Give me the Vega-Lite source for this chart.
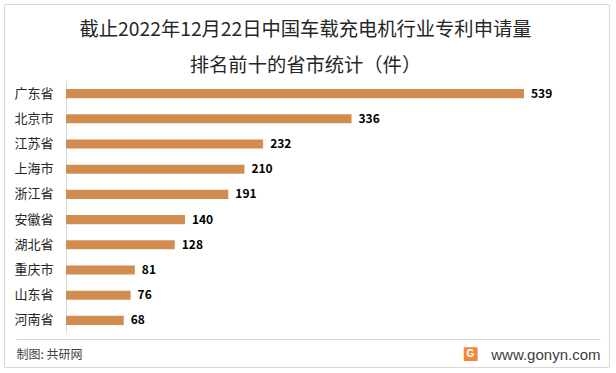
{
  "$schema": "https://vega.github.io/schema/vega-lite/v6.json",
  "width": 605,
  "height": 363,
  "autosize": {"type": "none"},
  "padding": {"left": 4, "top": 4, "right": 7, "bottom": 6},
  "background": "white",
  "config": {
    "view": {"stroke": "#d9d9d9", "strokeWidth": 1},
    "font": "Noto Sans CJK SC"
  },
  "title": {
    "text": ["截止2022年12月22日中国车载充电机行业专利申请量", "排名前十的省市统计（件）"],
    "anchor": "middle",
    "frame": "group",
    "baseline": "top",
    "offset": -72,
    "dx": -1,
    "lineHeight": 36,
    "fontSize": 19.3,
    "fontWeight": "normal",
    "font": "Noto Sans CJK SC",
    "color": "#262626"
  },
  "datasets": {
    "patents": [
      {"province": "广东省", "value": 539},
      {"province": "北京市", "value": 336},
      {"province": "江苏省", "value": 232},
      {"province": "上海市", "value": 210},
      {"province": "浙江省", "value": 191},
      {"province": "安徽省", "value": 140},
      {"province": "湖北省", "value": 128},
      {"province": "重庆市", "value": 81},
      {"province": "山东省", "value": 76},
      {"province": "河南省", "value": 68}
    ],
    "logo": [{"logo": "G", "anchor": "河南省"}]
  },
  "layer": [
    {
      "data": {"name": "patents"},
      "encoding": {
        "y": {
          "field": "province",
          "type": "nominal",
          "sort": null,
          "scale": {
            "domain": ["广东省", "北京市", "江苏省", "上海市", "浙江省", "安徽省", "湖北省", "重庆市", "山东省", "河南省"],
            "range": [77, 329], "paddingInner": 0.64, "paddingOuter": 0.32
          },
          "axis": {
            "orient": "left",
            "offset": -62,
            "domainColor": "#d9d9d9",
            "ticks": false,
            "labelPadding": 13,
            "labelFontSize": 13,
            "labelColor": "#262626",
            "labelFont": "Noto Sans CJK SC",
            "title": "www.gonyn.com",
            "titleAngle": 0,
            "titleX": 534,
            "titleY": 350,
            "titleAlign": "right",
            "titleBaseline": "middle",
            "titleFont": "Liberation Sans",
            "titleFontSize": 15,
            "titleFontWeight": "normal",
            "titleColor": "#404040"
          }
        },
        "x": {
          "field": "value",
          "type": "quantitative",
          "scale": {"domain": [-58.84, 628.44], "range": [12, 596], "nice": false, "zero": false},
          "axis": {
            "orient": "bottom",
            "offset": -28,
            "domain": true,
            "domainColor": "#d9d9d9",
            "ticks": false,
            "labels": false,
            "grid": false,
            "title": "制图: 共研网",
            "titleX": 12,
            "titleY": 15,
            "titleAlign": "left",
            "titleAnchor": "start",
            "titleBaseline": "middle",
            "titleFont": "Noto Sans CJK SC",
            "titleFontSize": 12,
            "titleFontWeight": "normal",
            "titleColor": "#404040"
          }
        }
      },
      "layer": [
        {"mark": {"type": "bar", "color": "#D38C50"}},
        {
          "mark": {"type": "text", "align": "left", "baseline": "middle", "dx": 7, "fontSize": 12, "fontWeight": "bold", "color": "#000000", "font": "Noto Sans CJK SC"},
          "encoding": {"text": {"field": "value", "type": "quantitative"}}
        }
      ]
    },
    {
      "data": {"name": "logo"},
      "mark": {"type": "text", "align": "center", "baseline": "middle", "dy": 34, "fontSize": 18, "color": "#F0883A", "font": "DejaVu Sans"},
      "encoding": {
        "x": {"datum": 476, "type": "quantitative"},
        "y": {"field": "anchor", "type": "nominal"},
        "text": {"value": "■"}
      }
    },
    {
      "data": {"name": "logo"},
      "mark": {"type": "text", "align": "center", "baseline": "middle", "dy": 34, "fontSize": 10, "fontWeight": "bold", "color": "white", "font": "Liberation Sans"},
      "encoding": {
        "x": {"datum": 476, "type": "quantitative"},
        "y": {"field": "anchor", "type": "nominal"},
        "text": {"field": "logo", "type": "nominal"}
      }
    }
  ]
}
